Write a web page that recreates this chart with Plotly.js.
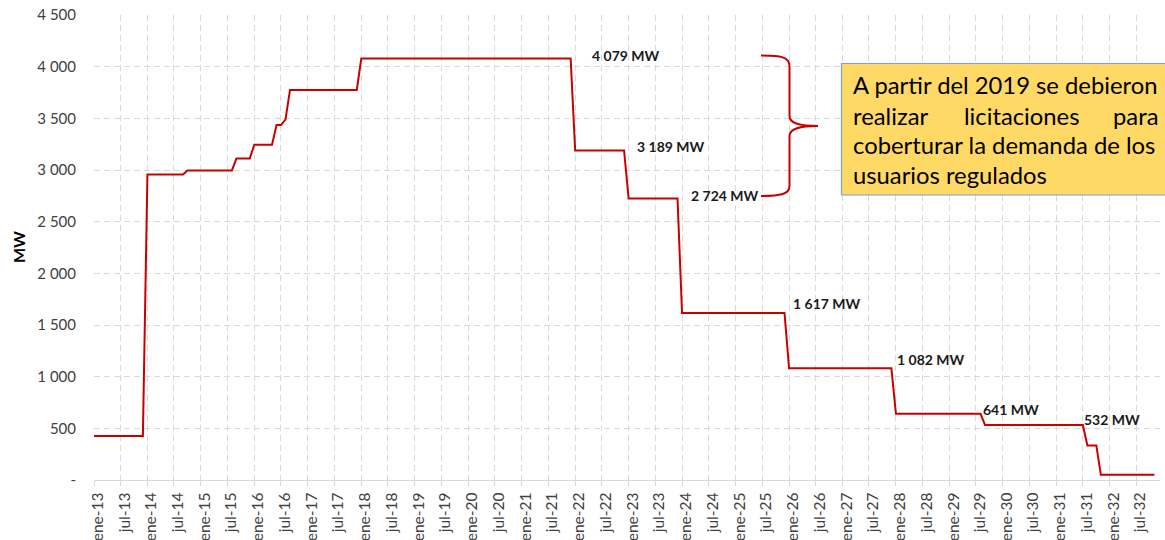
<!DOCTYPE html>
<html>
<head>
<meta charset="utf-8">
<script src="https://cdn.plot.ly/plotly-3.0.1.min.js"></script>
<style>
  html, body { margin: 0; padding: 0; background: #ffffff; }
  #chart { width: 1165px; height: 540px; }
</style>
</head>
<body>
<div id="chart"></div>
<script>
// ---- Data: breakpoints of the contracted capacity curve (MW) ----
const stepDates = [
  '2013-01-01', '2013-12-01', '2014-01-01', '2014-09-01', '2014-10-01',
  '2015-08-01', '2015-09-01', '2015-12-01', '2016-01-01', '2016-05-01',
  '2016-06-01', '2016-07-01', '2016-08-01', '2016-09-01', '2017-12-01',
  '2018-01-01', '2021-12-01', '2022-01-01', '2022-12-01', '2023-01-01',
  '2023-12-01', '2024-01-01', '2025-12-01', '2026-01-01', '2027-12-01',
  '2028-01-01', '2029-08-01', '2029-09-01', '2031-07-01', '2031-08-01',
  '2031-10-01', '2031-11-01', '2032-11-01'
];
const stepValues = [
  426, 426, 2957, 2957, 2996,
  2996, 3112, 3112, 3245, 3245,
  3435, 3435, 3487, 3775, 3775,
  4079, 4079, 3189, 3189, 2724,
  2724, 1617, 1617, 1082, 1082,
  641, 641, 532, 532, 335,
  335, 50, 50
];

// ---- Tick labels ----
const xTickVals = [
  '2013-01-01','2013-07-01','2014-01-01','2014-07-01','2015-01-01','2015-07-01',
  '2016-01-01','2016-07-01','2017-01-01','2017-07-01','2018-01-01','2018-07-01',
  '2019-01-01','2019-07-01','2020-01-01','2020-07-01','2021-01-01','2021-07-01',
  '2022-01-01','2022-07-01','2023-01-01','2023-07-01','2024-01-01','2024-07-01',
  '2025-01-01','2025-07-01','2026-01-01','2026-07-01','2027-01-01','2027-07-01',
  '2028-01-01','2028-07-01','2029-01-01','2029-07-01','2030-01-01','2030-07-01',
  '2031-01-01','2031-07-01','2032-01-01','2032-07-01'
];
const xTickText = [
  'ene-13','jul-13','ene-14','jul-14','ene-15','jul-15',
  'ene-16','jul-16','ene-17','jul-17','ene-18','jul-18',
  'ene-19','jul-19','ene-20','jul-20','ene-21','jul-21',
  'ene-22','jul-22','ene-23','jul-23','ene-24','jul-24',
  'ene-25','jul-25','ene-26','jul-26','ene-27','jul-27',
  'ene-28','jul-28','ene-29','jul-29','ene-30','jul-30',
  'ene-31','jul-31','ene-32','jul-32'
];
const yTickVals = [0, 500, 1000, 1500, 2000, 2500, 3000, 3500, 4000, 4500];
const yTickText = ['-', '500', '1 000', '1 500', '2 000', '2 500', '3 000', '3 500', '4 000', '4 500'];

// ---- Text ----
const levelLabels = ['4 079 MW', '3 189 MW', '2 724 MW', '1 617 MW', '1 082 MW', '641 MW', '532 MW'];
const noteLine1 = 'A partir del 2019 se debieron';
const noteLine2 = ['realizar', 'licitaciones', 'para'];
const noteLine3 = 'coberturar la demanda de los';
const noteLine4 = 'usuarios regulados';
const yTitle = 'MW';

// ---- Pixel helpers for decorations (plot area: x 94..1160, y 15..480) ----
const PL = 94, PR = 1160, PT = 15, PB = 480;
const px = x => (x - PL) / (PR - PL);
const py = y => (PB - y) / (PB - PT);

const FONT = 'Lato, Carlito, "Open Sans", sans-serif';
const gridColor = '#d9d9d9';
const tickColor = '#404040';

const trace = {
  type: 'scatter',
  mode: 'lines',
  x: stepDates,
  y: stepValues,
  line: { color: '#c80000', width: 2 },
  hoverinfo: 'x+y'
};

const labelPos = [
  [590, 56], [635, 146], [689, 195], [791, 303], [895, 359], [981, 409], [1082, 419]
];
const annotations = levelLabels.map((t, i) => ({
  xref: 'paper', yref: 'paper',
  x: px(labelPos[i][0]), y: py(labelPos[i][1]),
  xanchor: 'left', yanchor: 'middle',
  text: '<b>' + t + '</b>', showarrow: false,
  font: { family: FONT, size: 14, color: '#1a1a1a' }
}));

const noteFont = { family: FONT, size: 23.8, color: '#000000' };
function note(text, x, y, anchor) {
  return { xref: 'paper', yref: 'paper', x: px(x), y: py(y), xanchor: anchor,
    yanchor: 'middle', text: text, showarrow: false, font: noteFont };
}
annotations.push(note(noteLine1, 851, 85, 'left'));
annotations.push(note(noteLine2[0], 851, 115.5, 'left'));
annotations.push(note(noteLine2[1], 1021.5, 115.5, 'center'));
annotations.push(note(noteLine2[2], 1160, 115.5, 'right'));
annotations.push(note(noteLine3, 851, 145, 'left'));
annotations.push(note(noteLine4, 851, 174.5, 'left'));

annotations.push({
  xref: 'paper', yref: 'paper', x: px(18), y: py(247),
  xanchor: 'center', yanchor: 'middle', textangle: -90,
  text: '<b>' + yTitle + '</b>', showarrow: false,
  font: { family: FONT, size: 16, color: '#000000' }
});

function P(x, y) { return px(x).toFixed(5) + ',' + py(y).toFixed(5); }
const bracketPath =
  'M ' + P(761, 55.5) +
  ' C ' + P(781, 55.5) + ' ' + P(789.5, 57) + ' ' + P(789.5, 66) +
  ' L ' + P(789.5, 116) +
  ' C ' + P(789.5, 123) + ' ' + P(798, 126) + ' ' + P(818, 126) +
  ' C ' + P(798, 126) + ' ' + P(789.5, 129) + ' ' + P(789.5, 136) +
  ' L ' + P(789.5, 186) +
  ' C ' + P(789.5, 194) + ' ' + P(781, 196) + ' ' + P(761, 196);

const shapes = [
  {
    type: 'rect', xref: 'paper', yref: 'paper', layer: 'above',
    x0: px(841.5), x1: px(1175), y0: py(195), y1: py(63.5),
    fillcolor: '#ffd966', line: { color: '#7f9fd4', width: 1.2 }
  },
  {
    type: 'path', xref: 'paper', yref: 'paper', layer: 'above',
    path: bracketPath, line: { color: '#c80000', width: 2 }
  }
];

const layout = {
  width: 1165, height: 540,
  margin: { l: PL, r: 1165 - PR, t: PT, b: 540 - PB, pad: 0 },
  paper_bgcolor: '#ffffff', plot_bgcolor: '#ffffff',
  showlegend: false,
  font: { family: FONT, size: 15, color: tickColor },
  xaxis: {
    type: 'date',
    range: ['2013-01-01', '2032-12-09'],
    tickmode: 'array', tickvals: xTickVals, ticktext: xTickText,
    tickangle: -90,
    tickfont: { family: FONT, size: 15.5, color: tickColor },
    ticklabelshift: 4,
    showgrid: true, gridcolor: gridColor, griddash: '6px,4px', gridwidth: 1,
    showline: true, linecolor: gridColor, linewidth: 1.3,
    ticks: 'outside', ticklen: 5, tickcolor: gridColor,
    zeroline: false, fixedrange: true
  },
  yaxis: {
    range: [0, 4500],
    tickmode: 'array', tickvals: yTickVals, ticktext: yTickText,
    tickfont: { family: FONT, size: 15, color: tickColor },
    showgrid: true, gridcolor: gridColor, griddash: '6px,4px', gridwidth: 1,
    showline: false, zeroline: false,
    ticks: '', ticklabelstandoff: 17, fixedrange: true
  },
  annotations: annotations,
  shapes: shapes
};

Plotly.newPlot('chart', [trace], layout, { displayModeBar: false, staticPlot: true });
</script>
</body>
</html>
